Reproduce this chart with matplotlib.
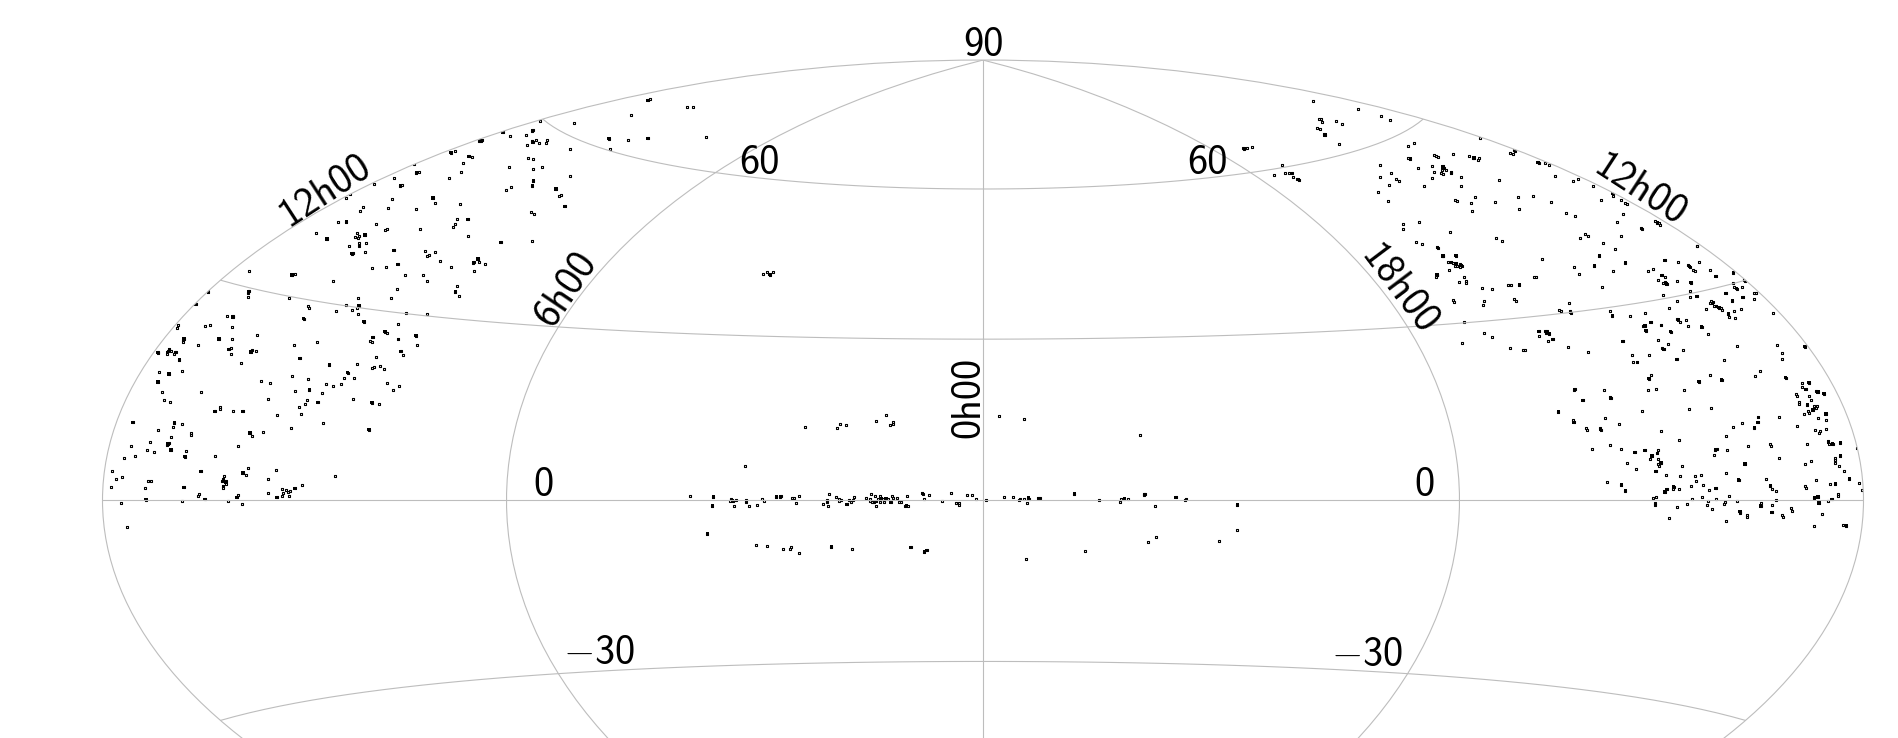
import numpy as np
import matplotlib
matplotlib.use("Agg")
import matplotlib.pyplot as plt

# Sky positions as read from the reference map, in magnified map-plane readings (3 per pixel),
# one list per surveyed field. They are turned back into longitude/latitude below.
field_west_low = [(448,4),(576,15),(585,13),(700,34),(325,66),(443,68),(447,64),(445,82),(287,102),(568,85),(737,106),(625,109),(628,115),(709,124),(382,139),(398,141),(400,139),(611,146),(235,166),(232,175),(316,169),(331,166),(397,172),(472,196),(252,206),(250,217),(250,210),(357,207),(397,208),(652,217),(295,226),(583,226),(394,235),(386,238),(457,239),(469,244),(453,246),(173,248),(175,247),(208,237),(205,243),(200,252),(212,243),(226,245),(223,252),(228,245),(238,270),(394,253),(600,265),(424,280),(688,285),(247,304),(178,307),(207,312),(743,308),(577,319),(733,325),(625,328),(484,334),(511,340),(174,336),(679,343),(724,343),(700,349),(628,360),(586,364),(304,367),(187,367),(667,370),(193,391),(505,388),(622,391),(211,397),(653,397),(616,403),(361,412),(361,418),(598,412),(345,424),(400,424),(429,424),(604,433),(532,436),(99,457),(223,459),(247,463),(220,472),(670,460),(574,475),(175,481),(450,489),(490,487),(274,490),(274,496),(457,499),(214,502),(94,529),(151,517),(206,519),(202,525),(415,529),(259,544),(213,540),(142,541),(163,547),(255,560),(346,559),(106,559),(73,565),(37,604),(303,604),(445,595),(529,601),(429,609),(373,617),(439,616),(67,622),(49,628),(145,634),(154,634),(370,626),(366,634),(378,634),(378,642),(370,648),(505,628),(706,619),(34,652),(136,655),(252,652),(370,655),(607,646),(585,655),(547,658),(559,661),(571,664),(550,670),(565,667),(505,670),(298,673),(295,679),(415,676),(411,682),(547,679),(568,679),(531,682),(138,689),(315,688),(247,694),(385,694),(64,700),(427,703),(82,772)]
field_west_high = [(809,64),(913,70),(785,94),(790,91),(769,106),(721,109),(699,97),(642,109),(632,123),(628,124),(636,121),(785,124),(790,127),(799,121),(808,130),(832,121),(829,130),(772,136),(901,148),(556,154),(543,158),(540,147),(597,169),(607,172),(775,175),(790,178),(580,190),(433,193),(718,202),(790,208),(817,202),(574,217),(448,217),(438,220),(538,235),(373,235),(790,243),(313,253),(787,257),(901,229),(395,256),(390,259),(724,262),(709,271),(858,267),(874,286),(868,289),(240,283),(229,295),(489,294),(367,298),(571,313),(496,310),(885,319),(280,322),(355,325),(439,328),(271,334),(784,337),(793,343),(562,358),(594,358),(205,367),(229,366),(556,373),(319,373),(550,382),(352,388),(346,391),(451,388),(139,400),(262,400),(285,405),(268,409),(256,412),(265,415),(595,409),(171,417),(692,427),(787,424),(268,430),(289,430),(238,439),(268,438),(466,454),(372,451),(286,457),(245,461),(250,460),(496,457),(478,466),(472,469),(624,477),(612,487),(608,490),(628,487),(511,484),(646,493),(383,493),(307,505),(349,502),(544,502),(613,514),(406,526),(460,526),(472,544),(562,559),(382,568),(556,576),(568,589),(364,595),(265,595),(267,617),(261,625),(247,631),(265,643),(282,665),(408,640),(472,643),(385,673),(345,695),(352,700),(309,712),(438,707),(385,718),(301,724),(307,727),(442,736),(392,754),(400,766),(319,772),(262,793),(331,799),(313,802),(307,805),(343,808),(253,835)]
field_west_edge = [(112,40),(148,49),(130,61),(10,88),(66,98),(88,103),(57,179)]
field_north_west = [(174,61),(181,58),(292,82),(310,82),(124,106),(57,176),(115,181),(174,175),(349,172),(61,208),(520,583),(532,577),(540,584),(550,577)]
field_centre_west = [(376,82),(472,85),(481,73),(499,76),(589,64),(619,46),(631,76),(640,67),(640,73),(196,199),(31,289),(100,291),(97,318),(154,298),(150,304),(160,304),(168,300),(198,300),(199,305),(163,319),(208,319),(232,316),(247,298),(253,304),(289,291),(301,291),(304,288),(337,295),(343,295),(358,289),(349,310),(442,301),(442,306),(430,313),(445,319),(448,283),(469,292),(478,298),(478,304),(484,299),(501,313),(508,300),(514,307),(520,300),(523,292),(559,295),(574,283),(571,298),(571,304),(577,307),(583,307),(586,289),(589,319),(595,296),(601,289),(601,307),(604,296),(610,296),(613,305),(619,296),(625,296),(632,307),(637,289),(640,295),(652,293),(658,307),(664,307),(676,319),(685,318),(682,289),(727,280),(730,283),(733,298),(748,286),(787,304),(814,280),(829,310),(838,310),(838,316),(862,286),(877,286),(889,298),(82,402),(229,436),(262,439),(310,448),(331,448),(334,442),(358,460),(454,441),(517,448),(692,442),(733,456),(741,451)]
field_centre_east = [(88,49),(163,58),(511,106),(49,301),(103,292),(130,292),(147,301),(150,298),(163,298),(175,293),(178,296),(172,310),(205,295),(209,295),(313,282),(388,301),(451,307),(454,298),(463,296),(475,298),(523,281),(523,286),(526,283),(556,319),(618,292),(645,301),(649,298),(802,315),(802,391),(559,412),(535,427),(748,424),(346,454),(169,478)]
field_east_high = [(163,40),(145,49),(145,85),(151,87),(223,76),(229,79),(235,82),(280,73),(328,79),(340,83),(343,85),(358,85),(355,91),(451,70),(460,73),(466,64),(533,97),(536,100),(556,100),(568,106),(61,106),(175,115),(217,109),(248,109),(253,113),(247,121),(259,121),(244,130),(250,133),(274,127),(274,130),(223,127),(94,130),(586,139),(61,142),(109,148),(118,154),(217,145),(304,142),(418,151),(640,154),(655,148),(88,166),(193,169),(304,169),(700,169),(55,187),(759,190),(760,199),(475,202),(520,199),(346,202),(85,214),(286,211),(292,214),(334,220),(406,217),(574,217),(724,211),(337,244),(478,238),(619,250),(646,259),(772,277),(130,283),(130,298),(178,277),(271,307),(676,313),(685,319),(661,325),(409,325),(427,334),(169,337),(187,343),(730,340),(232,352),(235,355),(766,358),(248,377),(250,379),(288,377),(718,378),(547,388),(263,397),(274,397),(280,400),(289,398),(301,403),(307,409),(301,410),(286,409),(292,409),(643,412),(703,408),(760,424),(268,421),(658,433),(230,434),(232,434),(229,442),(313,442),(319,454),(319,460),(298,457),(523,442),(529,442),(367,475),(397,478),(445,466),(454,466),(478,465),(727,472)]
field_north_east = [(280,49),(415,73),(484,94),(511,106),(298,103),(304,103),(307,112),(349,109),(367,118),(292,130),(301,133),(313,148),(316,151),(358,178),(70,190),(73,192),(80,190),(97,187),(187,241),(163,271),(196,265),(208,265),(217,265),(220,277),(232,281),(238,285)]
field_east_rim = [(4,211),(16,220),(22,223),(10,253),(64,293),(67,298),(2,319),(106,274),(112,278),(118,280),(121,286),(232,349)]
field_east_mid = [(40,31),(43,37),(133,34),(130,46),(223,28),(229,34),(388,40),(358,61),(364,64),(391,64),(394,70),(511,64),(517,77),(73,97),(133,130),(157,142),(67,160),(211,175),(250,181),(256,181),(297,124),(298,139),(316,124),(322,124),(318,128),(328,131),(325,154),(339,148),(385,172),(445,187),(405,298),(403,301),(493,301),(511,322),(514,325),(429,331),(355,366),(400,391),(402,397),(496,385),(538,403),(439,415),(442,421),(481,415),(484,421),(457,478),(511,466),(502,577)]
field_east_low = [(232,19),(16,68),(135,61),(175,67),(238,67),(205,76),(211,81),(85,94),(100,88),(220,91),(226,94),(271,91),(340,98),(126,106),(136,112),(288,109),(115,121),(130,129),(136,127),(141,133),(172,124),(213,128),(375,122),(371,118),(338,130),(343,142),(350,146),(367,142),(318,160),(211,154),(403,160),(409,160),(130,166),(211,172),(231,169),(369,172),(403,178),(172,184),(337,183),(274,182),(270,188),(280,186),(283,197),(288,199),(297,203),(304,205),(148,205),(259,208),(307,211),(343,214),(364,208),(460,220),(76,220),(325,222),(31,229),(328,232),(346,235),(172,238),(180,245),(199,241),(93,247),(75,257),(68,259),(124,256),(205,259),(78,272),(152,275),(245,261),(265,283),(9,304),(115,301),(145,313),(125,323),(132,328),(352,319),(472,316),(555,320),(190,331),(487,340),(37,346),(88,346),(170,358),(487,358),(313,361),(40,367),(52,367),(421,394),(271,406),(406,409),(94,406),(87,416),(305,420),(497,413),(237,425),(547,430),(567,428),(545,442),(558,448),(85,451),(109,448),(193,451),(587,454),(594,456),(612,461),(529,463),(532,469),(568,469),(574,481),(538,487),(538,493),(562,495),(583,499),(592,499),(589,505),(208,508),(274,505),(67,514),(553,523),(565,514),(568,520),(579,510),(618,522),(415,532),(478,532),(595,535),(619,541),(414,547),(367,550),(340,562),(403,563),(532,559),(124,574),(586,571),(601,574),(598,580),(619,568),(319,589),(178,601),(451,613),(454,619),(562,613),(385,619),(625,604),(626,612),(638,612),(661,608),(2,628),(75,631),(45,637),(115,631),(112,640),(96,648),(91,658),(115,658),(290,627),(286,629),(322,631),(283,646),(710,625),(478,655),(661,648),(646,655),(646,661),(646,670),(574,664),(123,668),(115,673),(118,679),(22,670),(375,672),(187,679),(556,673),(658,679),(49,688),(108,694),(673,694),(319,700),(139,706),(181,709),(226,709),(244,706),(229,724),(356,720),(439,718),(589,721),(688,717),(718,730),(631,733),(646,732),(4,735),(214,739),(250,736),(451,738),(556,739),(559,745),(161,741),(160,748),(178,748),(141,748),(135,756),(16,752),(288,745),(268,751),(457,748),(469,754),(726,751),(655,763),(655,769),(328,769),(247,772),(583,774),(594,771),(100,775),(109,772),(217,778),(289,778),(636,778),(469,781),(265,784),(316,785),(352,784),(424,788),(625,784),(106,790),(105,796),(597,789),(202,793),(262,796),(313,793),(422,798),(457,796),(172,802),(514,805),(517,814),(277,808),(360,815),(361,820),(456,817),(382,826),(382,832),(487,826),(490,832),(607,823),(148,835),(319,844),(583,859),(670,856),(679,857)]

# Places where several sources overlap and read as solid spots
dense_west_low = [(576,15),(325,66),(445,66),(287,102),(398,141),(611,146),(252,206),(357,207),(386,238),(453,246),(173,248),(208,240),(203,247),(226,247),(238,270),(600,265),(688,285),(207,312),(743,308),(174,336),(628,360),(653,397),(345,424),(429,424),(99,457),(223,459),(450,489),(204,522),(213,540),(255,560),(303,604),(429,609),(378,638),(370,630),(370,650),(252,652),(585,655),(411,682),(531,682),(315,688),(138,689)]
dense_west_high = [(787,92),(699,97),(632,123),(788,126),(543,158),(597,169),(790,243),(787,257),(392,257),(858,267),(489,294),(885,319),(594,358),(285,405),(171,417),(692,427),(268,436),(372,451),(245,461),(624,477),(610,488),(383,493),(556,576),(267,617),(282,665),(345,695),(309,712),(438,707),(385,718),(392,754),(229,366),(440,219)]
dense_west_edge = [(66,98),(57,179)]
dense_north_west = [(174,61),(57,176),(174,175),(540,584)]
dense_centre_west = [(100,291),(97,318),(158,303),(199,304),(289,291),(302,290),(442,304),(501,313),(604,296),(618,297),(588,304),(632,307),(680,318),(728,281),(82,402),(454,441),(692,442),(733,456),(740,451)]
dense_centre_east = [(175,294),(207,295),(313,282),(463,296),(523,283),(618,292),(802,315)]
dense_east_high = [(151,87),(342,84),(534,98),(249,111),(274,129),(233,353),(249,378),(288,377),(275,398),(288,400),(303,407),(718,378),(703,408),(231,434),(478,465),(759,190)]
dense_north_east = [(73,191),(315,150),(215,265),(235,283)]
dense_east_rim = [(112,278)]
dense_east_mid = [(297,124),(320,126),(328,131),(339,148),(392,67),(517,77),(404,299),(429,331),(355,366),(402,397),(512,324),(482,418)]
dense_east_low = [(16,68),(135,61),(208,79),(126,106),(139,132),(213,128),(288,109),(340,98),(373,120),(349,145),(318,160),(231,169),(369,172),(337,183),(278,190),(290,199),(297,203),(325,222),(175,240),(93,247),(75,257),(124,256),(78,272),(152,275),(245,261),(9,304),(132,328),(555,320),(170,359),(52,367),(87,416),(305,420),(237,425),(497,413),(567,428),(558,448),(594,456),(612,461),(562,495),(579,510),(618,522),(415,532),(414,547),(403,563),(625,606),(638,612),(661,608),(75,631),(45,637),(112,640),(96,648),(288,628),(661,648),(123,668),(375,672),(108,694),(688,717),(646,732),(356,720),(451,738),(4,735),(161,741),(141,748),(135,756),(16,752),(288,745),(583,774),(594,771),(636,778),(106,793),(597,789),(422,798),(456,817),(360,815),(679,857)]

fields = [
    (field_west_low, 100, 270), (field_west_high, 270, 100), (field_west_edge, 350, 370),
    (field_north_west, 590, 80), (field_centre_west, 680, 400), (field_centre_east, 970, 400),
    (field_east_high, 1360, 130), (field_north_east, 1220, 85), (field_east_rim, 1620, 130),
    (field_east_mid, 1440, 290), (field_east_low, 1620, 240),
]
dense = [
    (dense_west_low, 100, 270), (dense_west_high, 270, 100), (dense_west_edge, 350, 370),
    (dense_north_west, 590, 80), (dense_centre_west, 680, 400), (dense_centre_east, 970, 400),
    (dense_east_high, 1360, 130), (dense_north_east, 1220, 85), (dense_east_rim, 1620, 130),
    (dense_east_mid, 1440, 290), (dense_east_low, 1620, 240),
]

W, H = 1898, 738
CX, CY, RX, RY = 983.0, 500.3, 880.5, 440.25

plt.rcParams['mathtext.fontset'] = 'cm'
fig = plt.figure(figsize=(W / 100, H / 100), dpi=100, facecolor='white')
ax = fig.add_axes([(CX - RX) / W, (H - CY - RY) / H, 2 * RX / W, 2 * RY / H], projection='hammer')


def to_lonlat(groups):
    """Map-plane readings -> longitude / latitude through the projection's own inverse."""
    px = np.concatenate([np.array(f, float)[:, 0] / 3 + ox for f, ox, oy in groups])
    py = np.concatenate([np.array(f, float)[:, 1] / 3 + oy for f, ox, oy in groups])
    plane = np.column_stack([(px - CX) / RX * 2 * np.sqrt(2), (CY - py) / RY * np.sqrt(2)])
    return ax.transProjection.inverted().transform(plane)


single = to_lonlat(fields)
spots = to_lonlat(dense)
ax.scatter(single[:, 0], single[:, 1], marker='s', s=2.4, facecolors='none',
           edgecolors='black', linewidths=0.78, zorder=1)
ax.scatter(spots[:, 0], spots[:, 1], marker='s', s=6.0, facecolors='black',
           edgecolors='none', linewidths=0, zorder=1)

ax.set_longitude_grid(90)
ax.set_latitude_grid(30)
ax.set_longitude_grid_ends(90)
ax.grid(True, color='#bdbdbd', linewidth=0.8, linestyle='-', zorder=3)
ax.set_axisbelow(False)
ax.set_xticklabels([])
ax.set_yticklabels([])
ax.tick_params(length=0)
for s in ax.spines.values():
    s.set_edgecolor('#bdbdbd')
    s.set_linewidth(0.8)

labels = [
    ('90', 983, 45, 0), ('0h00', 969, 397, 90), ('6h00', 566, 289, 56),
    ('12h00', 325, 191, 33), ('18h00', 1398, 290, -53), ('12h00', 1640, 191, -33),
    ('60', 759, 164, 0), ('60', 1207, 164, 0), ('0', 543, 486, 0), ('0', 1424, 486, 0),
    ('$-$30', 599, 653, 0), ('$-$30', 1367, 655, 0),
]
for t, x, y, r in labels:
    fig.text(x / W, 1 - y / H, t, family='cmss10', fontsize=29, rotation=r,
             ha='center', va='center', rotation_mode='anchor', color='black')

fig.savefig('out.png', dpi=100, facecolor='white')
